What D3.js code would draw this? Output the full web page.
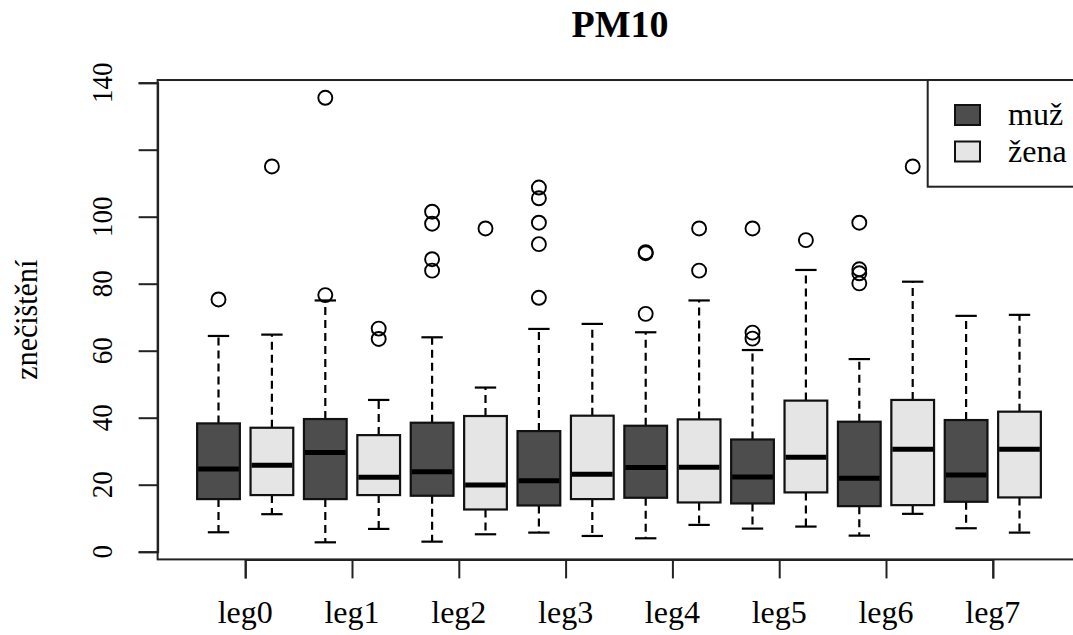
<!DOCTYPE html>
<html>
<head>
<meta charset="utf-8">
<script src="https://cdn.jsdelivr.net/npm/d3@7"></script>
<style>
	body { margin: 0; background: #fff; }
	text { font-family: "Liberation Serif", "Times New Roman", serif; fill: #000; }
</style>
</head>
<body>
<svg id="chart" width="1073" height="635"></svg>
<script>
// categories and series
const groups = ['leg0', 'leg1', 'leg2', 'leg3', 'leg4', 'leg5', 'leg6', 'leg7'];
const seriesNames = ['muž', 'žena'];
const yTicks = [0, 20, 40, 60, 80, 100, 120, 140];
const yTickLabels = ['0', '20', '40', '60', '80', '100', '', '140'];

// [lower whisker, q1, median, q3, upper whisker]
const muzStats = [
	[5.8, 15.7, 24.7, 38.3, 64.4],
	[2.8, 15.7, 29.6, 39.6, 75.0],
	[3.0, 16.7, 23.9, 38.5, 64.0],
	[5.7, 13.8, 21.2, 36.0, 66.5],
	[4.0, 16.1, 25.1, 37.6, 65.5],
	[6.9, 14.4, 22.3, 33.5, 60.2],
	[4.8, 13.6, 21.9, 38.8, 57.5],
	[7.0, 14.9, 22.9, 39.3, 70.4]
];
const zenaStats = [
	[11.2, 16.9, 25.8, 37.0, 64.8],
	[6.8, 16.9, 22.2, 34.8, 45.3],
	[5.2, 12.6, 19.9, 40.5, 49.0],
	[4.7, 15.7, 23.1, 40.6, 68.0],
	[8.0, 14.7, 25.2, 39.5, 75.0],
	[7.5, 17.7, 28.2, 45.1, 84.1],
	[11.3, 13.9, 30.6, 45.3, 80.6],
	[5.7, 16.2, 30.6, 41.8, 70.7]
];
const muzOutliers = [
	[75.3],
	[76.6, 135.5],
	[101.5, 97.9, 87.3, 83.9],
	[108.7, 105.5, 98.2, 91.8, 75.8],
	[89.1, 89.4, 71.0],
	[96.5, 65.4, 63.6],
	[98.2, 84.3, 83.1, 80.1],
	[]
];
const zenaOutliers = [
	[115.0],
	[66.6, 63.5],
	[96.5],
	[],
	[96.5, 83.9],
	[93.0],
	[115.0],
	[]
];
const fills = ['#4d4d4d', '#e5e5e5'];

const svg = d3.select('#chart');

// box positions 1..16, like R's boxplot 'at'
const x = d3.scaleLinear().domain([1, 16]).range([218.5, 1019.5]);
const y = d3.scaleLinear().domain([0, 140]).range([551.7, 82.7]);
const boxW = x(1.8) - x(1);

const frame = {l: x(-0.14), r: x(17.14), t: y(140.8), b: y(-2.3)};

// flatten to one list of boxes
const boxes = [];
groups.forEach((g, i) => {
	boxes.push({pos: 2 * i + 1, s: muzStats[i], out: muzOutliers[i], fill: fills[0]});
	boxes.push({pos: 2 * i + 2, s: zenaStats[i], out: zenaOutliers[i], fill: fills[1]});
});

const gBox = svg.append('g');

const b = gBox.selectAll('g.box').data(boxes).enter().append('g').attr('class', 'box');

// whiskers, dashed like R lty=2
b.append('line')
	.attr('x1', d => x(d.pos)).attr('x2', d => x(d.pos))
	.attr('y1', d => y(d.s[3])).attr('y2', d => y(d.s[4]))
	.attr('stroke', '#000').attr('stroke-width', 2.2).attr('stroke-dasharray', '8,5');
b.append('line')
	.attr('x1', d => x(d.pos)).attr('x2', d => x(d.pos))
	.attr('y1', d => y(d.s[1])).attr('y2', d => y(d.s[0]))
	.attr('stroke', '#000').attr('stroke-width', 2.2).attr('stroke-dasharray', '8,5');

// staples
[0, 4].forEach(k => {
	b.append('line')
		.attr('x1', d => x(d.pos) - boxW / 4).attr('x2', d => x(d.pos) + boxW / 4)
		.attr('y1', d => y(d.s[k])).attr('y2', d => y(d.s[k]))
		.attr('stroke', '#000').attr('stroke-width', 2.2);
});

// boxes
b.append('rect')
	.attr('x', d => x(d.pos) - boxW / 2)
	.attr('width', boxW)
	.attr('y', d => y(d.s[3]))
	.attr('height', d => y(d.s[1]) - y(d.s[3]))
	.attr('fill', d => d.fill)
	.attr('stroke', '#111').attr('stroke-width', 2.2);

// medians
b.append('line')
	.attr('x1', d => x(d.pos) - boxW / 2 + 1).attr('x2', d => x(d.pos) + boxW / 2 - 1)
	.attr('y1', d => y(d.s[2])).attr('y2', d => y(d.s[2]))
	.attr('stroke', '#000').attr('stroke-width', 5);

// outliers
b.selectAll('circle').data(d => d.out.map(v => ({pos: d.pos, v: v}))).enter().append('circle')
	.attr('cx', d => x(d.pos)).attr('cy', d => y(d.v)).attr('r', 7)
	.attr('fill', 'none').attr('stroke', '#000').attr('stroke-width', 1.9);

//-------------frame and axes---------------------------
svg.append('rect')
	.attr('x', frame.l).attr('y', frame.t)
	.attr('width', frame.r - frame.l).attr('height', frame.b - frame.t)
	.attr('fill', 'none').attr('stroke', '#222').attr('stroke-width', 2);

const yAxis = svg.append('g').attr('transform', `translate(${frame.l},0)`)
	.call(d3.axisLeft(y).tickValues(yTicks).tickSize(19).tickFormat(''));
yAxis.select('.domain').attr('stroke-width', 2).attr('stroke', '#222');
yAxis.selectAll('.tick line').attr('stroke-width', 2).attr('stroke', '#222');

// the picture is a bit stretched sideways, so glyph height is scaled on rotated labels
svg.append('g').selectAll('text').data(yTicks).enter().append('text')
	.attr('transform', d => `translate(111.5,${y(d)}) rotate(-90) scale(1,1.12)`)
	.attr('text-anchor', 'middle')
	.style('font-size', '27px')
	.text((d, i) => yTickLabels[i]);

const xCenter = d3.scaleLinear().domain([0, 7]).range([x(1.5), x(15.5)]);
const xAxis = svg.append('g').attr('transform', `translate(0,${frame.b})`)
	.call(d3.axisBottom(xCenter).tickValues(d3.range(groups.length)).tickSize(19).tickFormat(''));
xAxis.select('.domain').attr('stroke-width', 2).attr('stroke', '#222');
xAxis.selectAll('.tick line').attr('stroke-width', 2).attr('stroke', '#222');

svg.append('g').selectAll('text').data(groups).enter().append('text')
	.attr('x', (d, i) => xCenter(i)).attr('y', 623)
	.attr('text-anchor', 'middle')
	.style('font-size', '32px')
	.text(d => d);

// y title + main title
svg.append('text')
	.attr('transform', `translate(37,${(frame.t + frame.b) / 2}) rotate(-90) scale(1,1.08)`)
	.attr('text-anchor', 'middle')
	.style('font-size', '30px')
	.text('znečištění');

svg.append('text')
	.attr('x', 620).attr('y', 37)
	.attr('text-anchor', 'middle')
	.style('font-size', '38px').style('font-weight', 'bold')
	.text('PM10');

//-------------legend---------------------------
const lg = svg.append('g');
lg.append('rect')
	.attr('x', 927.7).attr('y', frame.t)
	.attr('width', frame.r - 927.7).attr('height', 186.7 - frame.t)
	.attr('fill', '#fff').attr('stroke', '#222').attr('stroke-width', 2);

const lItem = lg.selectAll('g.item').data(seriesNames).enter().append('g')
	.attr('transform', (d, i) => `translate(0,${i * 36.5})`);
lItem.append('rect')
	.attr('x', 955).attr('y', 105).attr('width', 25).attr('height', 20)
	.attr('fill', (d, i) => fills[i]).attr('stroke', '#111').attr('stroke-width', 2);
lItem.append('text')
	.attr('x', 1008).attr('y', 125)
	.style('font-size', '32px')
	.text(d => d);
</script>
</body>
</html>
